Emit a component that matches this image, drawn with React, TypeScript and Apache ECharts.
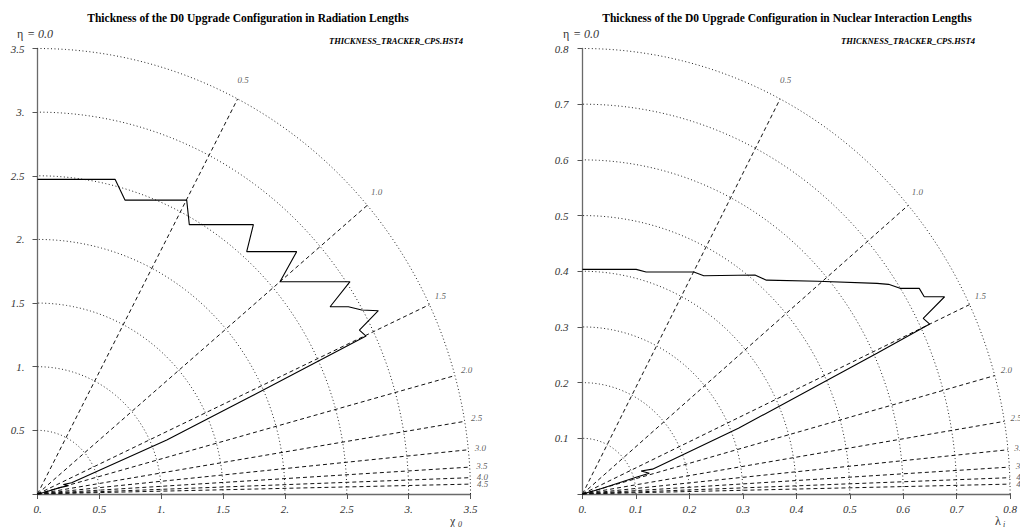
import React, { useEffect, useRef } from "react";
import * as echarts from "echarts";

// ---------- data ----------
const etaValues = [0.5, 1.0, 1.5, 2.0, 2.5, 3.0, 3.5, 4.0, 4.5];
const etaLabels = ["0.5", "1.0", "1.5", "2.0", "2.5", "3.0", "3.5", "4.0", "4.5"];

const radTicks = [0.5, 1.0, 1.5, 2.0, 2.5, 3.0, 3.5];
const nilTicks = [0.1, 0.2, 0.3, 0.4, 0.5, 0.6, 0.7, 0.8];

// radiation lengths (chi_0): points of the thickness outline (x = along beam, y = transverse)
const radX = [0, 0.627, 0.707, 1.206, 1.227, 1.745, 1.691, 2.095, 1.96, 2.526, 2.365, 2.513, 2.621, 2.755, 2.602, 2.656, 1.72, 1.045, 0.276, 0.209, 0.25, 0.18, 0.05, 0];
const radY = [2.472, 2.472, 2.309, 2.309, 2.116, 2.116, 1.904, 1.904, 1.668, 1.668, 1.471, 1.471, 1.445, 1.44, 1.288, 1.241, 0.764, 0.424, 0.089, 0.074, 0.066, 0.05, 0.012, 0];

// nuclear interaction lengths (lambda_i)
const nilX = [0, 0.1004, 0.119, 0.2083, 0.2269, 0.3226, 0.344, 0.44, 0.5509, 0.5726, 0.594, 0.63, 0.6393, 0.6774, 0.6374, 0.6496, 0.5509, 0.2917, 0.131, 0.1096, 0.125, 0.1004, 0.03, 0];
const nilY = [0.4034, 0.4034, 0.3986, 0.3986, 0.392, 0.3932, 0.384, 0.382, 0.3783, 0.3765, 0.3693, 0.3693, 0.3542, 0.3542, 0.3154, 0.3052, 0.2526, 0.118, 0.0446, 0.0413, 0.0372, 0.03, 0.008, 0];

// ---------- helpers ----------
const SERIF = '"Liberation Serif", "Times New Roman", Times, serif';

const theta = (eta: number) => 2 * Math.atan(Math.exp(-eta));

function arcPoints(r: number) {
  const pts: number[][] = [];
  for (let i = 0; i <= 120; i++) {
    const a = (Math.PI / 2) * (i / 120);
    pts.push([r * Math.cos(a), r * Math.sin(a)]);
  }
  return pts;
}

function panelSeries(idx: number, rings: number[], xs: number[], ys: number[]) {
  const rMax = rings[rings.length - 1];
  const series: any[] = [];
  rings.forEach((r) => {
    series.push({
      type: "line",
      xAxisIndex: idx,
      yAxisIndex: idx,
      data: arcPoints(r),
      showSymbol: false,
      symbol: "none",
      silent: true,
      lineStyle: { color: "#222", width: 1, type: [1, 2.5] },
      z: 1,
    });
  });
  etaValues.forEach((eta) => {
    const t = theta(eta);
    series.push({
      type: "line",
      xAxisIndex: idx,
      yAxisIndex: idx,
      data: [
        [0, 0],
        [rMax * Math.cos(t), rMax * Math.sin(t)],
      ],
      showSymbol: false,
      symbol: "none",
      silent: true,
      lineStyle: { color: "#111", width: 1, type: [4, 3] },
      z: 2,
    });
  });
  series.push({
    type: "scatter",
    xAxisIndex: idx,
    yAxisIndex: idx,
    clip: false,
    symbolSize: 0.01,
    silent: true,
    itemStyle: { color: "rgba(0,0,0,0)" },
    label: {
      show: true,
      position: "inside",
      formatter: (p: any) => p.name,
      fontFamily: SERIF,
      fontStyle: "italic",
      fontSize: 9,
      color: "#333",
    },
    data: etaValues.map((eta, i) => {
      const t = theta(eta);
      return { name: etaLabels[i], value: [rMax * 1.028 * Math.cos(t), rMax * 1.047 * Math.sin(t)] };
    }),
    z: 3,
  });
  series.push({
    type: "line",
    xAxisIndex: idx,
    yAxisIndex: idx,
    data: xs.map((x, i) => [x, ys[i]]),
    showSymbol: false,
    symbol: "none",
    silent: true,
    lineStyle: { color: "#000", width: 1.1, type: "solid" },
    z: 4,
  });
  return series;
}

const fmt = (v: number) => {
  const s = (Math.round(v * 10) / 10).toString();
  return s.indexOf(".") >= 0 ? s : s + ".";
};

function axisCommon(gridIndex: number, max: number, interval: number) {
  return {
    gridIndex,
    type: "value",
    min: 0,
    max,
    interval,
    splitLine: { show: false },
    axisLine: { show: true, onZero: false, lineStyle: { color: "#6a6a6a", width: 1.3 } },
    axisTick: { show: true, length: 5, lineStyle: { color: "#555", width: 1 } },
  };
}

function labelStyle(margin: number) {
  return {
    fontFamily: SERIF,
    fontStyle: "italic",
    fontSize: 11,
    color: "#333",
    margin,
  };
}

export default function App() {
  const ref = useRef<HTMLDivElement>(null);
  useEffect(() => {
    if (!ref.current) return;
    const chart = echarts.init(ref.current, undefined, { renderer: "svg" });
    const txt = (x: number, y: number, text: string, font: string, align = "left", color = "#000") => ({
      type: "text",
      x,
      y,
      style: { text, font, fill: color, align, verticalAlign: "middle" },
    });
    chart.setOption({
      animation: false,
      backgroundColor: "#fff",
      grid: [
        { left: 37.5, top: 48.5, width: 433, height: 445.5, containLabel: false },
        { left: 582.5, top: 48.5, width: 432.5, height: 445.5, containLabel: false },
      ],
      xAxis: [
        {
          ...axisCommon(0, 3.5, 0.5),
          axisLabel: { ...labelStyle(9), formatter: fmt },
        },
        {
          ...axisCommon(1, 0.8, 0.1),
          axisLabel: { ...labelStyle(9), formatter: fmt },
        },
      ],
      yAxis: [
        {
          ...axisCommon(0, 3.5, 0.5),
          axisLabel: { ...labelStyle(13), formatter: (v: number) => (v === 0 ? "" : fmt(v)) },
        },
        {
          ...axisCommon(1, 0.8, 0.1),
          axisLabel: { ...labelStyle(14), formatter: (v: number) => (v === 0 ? "" : fmt(v)) },
        },
      ],
      series: [
        ...panelSeries(0, radTicks, radX, radY),
        ...panelSeries(1, nilTicks, nilX, nilY),
      ],
      graphic: [
        txt(248, 18, "Thickness of the D0 Upgrade Configuration in Radiation Lengths", `bold 11.5px ${SERIF}`, "center"),
        txt(787, 18, "Thickness of the D0 Upgrade Configuration in Nuclear Interaction Lengths", `bold 11.5px ${SERIF}`, "center"),
        txt(17, 34, "\u03b7", `12px ${SERIF}`, "left", "#333"),
        txt(27, 34, "= 0.0", `italic 12px ${SERIF}`, "left", "#333"),
        txt(563, 34, "\u03b7", `12px ${SERIF}`, "left", "#333"),
        txt(573, 34, "= 0.0", `italic 12px ${SERIF}`, "left", "#333"),
        txt(329, 41, "THICKNESS_TRACKER_CPS.HST4", `italic bold 8.5px ${SERIF}`, "left"),
        txt(841, 41, "THICKNESS_TRACKER_CPS.HST4", `italic bold 8.5px ${SERIF}`, "left"),
        txt(450, 521, "\u03c7", `12px ${SERIF}`, "left", "#333"),
        txt(458, 524, "0", `italic 8px ${SERIF}`, "left", "#333"),
        txt(995, 521, "\u03bb", `12px ${SERIF}`, "left", "#333"),
        txt(1003, 524, "i", `italic 8px ${SERIF}`, "left", "#333"),
      ],
    });
    return () => chart.dispose();
  }, []);
  return (
    <div
      ref={ref}
      style={{ position: "absolute", left: 0, top: 0, width: 1020, height: 527, background: "#fff" }}
    />
  );
}
